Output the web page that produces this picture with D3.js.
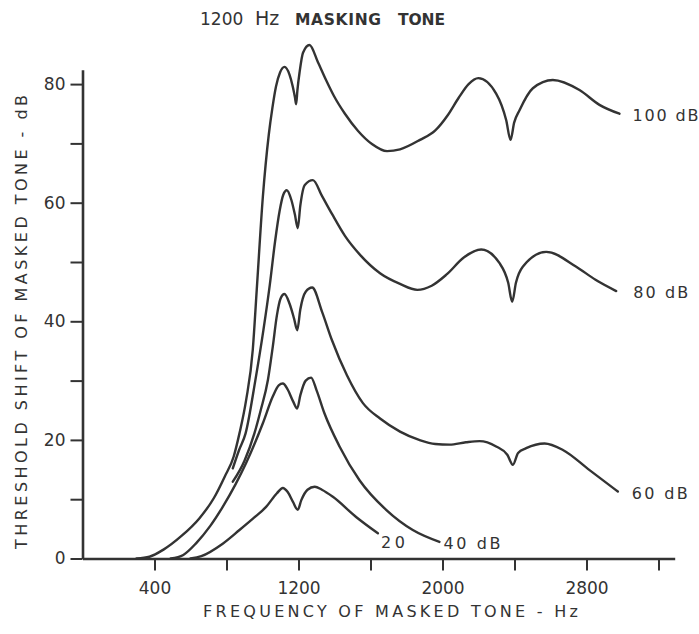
<!DOCTYPE html>
<html>
<head>
<meta charset="utf-8">
<script src="https://cdn.jsdelivr.net/npm/d3@7"></script>
<style>
  html, body { margin: 0; padding: 0; background: #ffffff; }
  svg { display: block; }
  text { font-family: "DejaVu Sans", sans-serif; fill: #333; }
</style>
</head>
<body>
<div id="chart"></div>
<script>
// ---- Data (frequency of masked tone in Hz, threshold shift in dB) ----
const curve100 = [[300,0],[372,0.3],[450,1.5],[550,3.8],[650,6.8],[730,10.2],[790,13.8],[840,17.2],[872,21.1],[909,26.7],[946,35.2],[968,45.3],[1002,61],[1035,71.5],[1055,76],[1075,79.6],[1098,82],[1122,82.9],[1150,81.6],[1168,79.6],[1180,77.8],[1187,76.6],[1194,79],[1206,82],[1225,85.3],[1261,86.6],[1308,83.7],[1353,80.7],[1397,78.0],[1458,75.0],[1531,72.1],[1608,69.9],[1692,68.7],[1764,69.0],[1875,70.6],[1960,72.2],[2030,74.8],[2090,77.7],[2145,80.0],[2199,81],[2298,78.4],[2354,73.9],[2378,70.6],[2398,73.5],[2428,75.6],[2502,79.3],[2613,80.7],[2761,79],[2872,76.5],[2983,75]];
const curve80 = [[835,15.2],[870,18.3],[906,21.1],[960,30],[1005,38.5],[1040,46],[1070,53.5],[1095,58.6],[1115,61.3],[1135,62.1],[1160,60.5],[1180,58],[1196,55.7],[1210,59.5],[1235,63],[1280,63.8],[1331,61.1],[1386,58.1],[1458,54.4],[1542,51.2],[1653,48.1],[1764,46.3],[1860,45.3],[1940,46.0],[2023,47.9],[2120,50.8],[2215,52.1],[2317,49.8],[2365,46.5],[2387,43.3],[2408,46.5],[2446,49.2],[2576,51.7],[2743,49.2],[2850,47],[2965,45.1]];
const curve60 = [[835,12.95],[900,16.5],[955,21.1],[990,25],[1030,30.1],[1057,35.7],[1080,41],[1100,43.8],[1122,44.6],[1150,43],[1175,40.5],[1193,38.5],[1210,42],[1240,45],[1276,45.7],[1331,41.6],[1386,36.8],[1469,30.9],[1558,26.2],[1653,23.6],[1764,21.4],[1870,20.0],[1960,19.3],[2039,19.2],[2130,19.6],[2206,19.8],[2298,18.9],[2360,17.5],[2391,15.8],[2420,17.8],[2465,18.6],[2567,19.4],[2669,18.3],[2817,14.9],[2974,11.3]];
const curve40 = [[490,0],[560,0.6],[632,2.6],[710,5.5],[779,8.7],[850,12.5],[909,16.1],[1002,22.8],[1057,27.3],[1090,29.2],[1113,29.5],[1140,28.5],[1170,26.5],[1193,25.3],[1210,27.5],[1240,30],[1270,30.5],[1300,28.4],[1344,24.5],[1428,18.9],[1539,13.2],[1687,8.2],[1835,4.8],[1983,2.8]];
const curve20 = [[600,0],[660,0.4],[779,2.5],[872,4.8],[950,6.8],[1020,8.7],[1080,11],[1113,11.9],[1140,11.2],[1170,9.5],[1196,8.2],[1215,9.8],[1250,11.6],[1290,12.1],[1330,11.6],[1391,10.4],[1520,7.0],[1641,4.25]];

const seriesNames = ["100 dB", "80 dB", "60 dB", "40 dB", "20"];
const seriesData = [curve100, curve80, curve60, curve40, curve20];

const freqTicks = [400, 800, 1200, 1600, 2000, 2400, 2800, 3200];
const freqTickLabels = ["400", "", "1200", "", "2000", "", "2800", ""];
const dbTicks = [0, 10, 20, 30, 40, 50, 60, 70, 80];
const dbTickLabels = ["0", "", "20", "", "40", "", "60", "", "80"];

const chartTitle = ["1200", "Hz", "MASKING", "TONE"];
const xTitle = "FREQUENCY OF MASKED TONE - Hz";
const yTitle = "THRESHOLD SHIFT OF MASKED TONE - dB";

// ---- Layout ----
const W = 699, H = 634;
const ink = "#333";
const svg = d3.select("#chart").append("svg").attr("width", W).attr("height", H);

const x = d3.scaleLinear().domain([0, 3290]).range([82.5, 82.5 + 0.18 * 3290]);
const y = d3.scaleLinear().domain([0, 82.4]).range([558.5, 558.5 - 5.93 * 82.4]);

// Axes
const xAxis = d3.axisBottom(x).tickValues(freqTicks)
  .tickFormat((d, i) => freqTickLabels[i]).tickSizeInner(12).tickSizeOuter(0).tickPadding(7);
const gx = svg.append("g").attr("transform", `translate(0,${y(0)})`).call(xAxis);
gx.select(".domain").attr("stroke", ink).attr("stroke-width", 2.6);
gx.selectAll(".tick line").attr("stroke", ink).attr("stroke-width", 2);
gx.selectAll(".tick text").attr("font-size", 17).attr("fill", ink)
  .attr("font-family", "DejaVu Sans").attr("dy", "0.95em");

const yAxis = d3.axisLeft(y).tickValues(dbTicks)
  .tickFormat((d, i) => dbTickLabels[i]).tickSizeInner(12).tickSizeOuter(0).tickPadding(5);
const gy = svg.append("g").attr("transform", `translate(${x(0)},0)`).call(yAxis);
gy.select(".domain").attr("stroke", ink).attr("stroke-width", 2.6);
gy.selectAll(".tick line").attr("stroke", ink).attr("stroke-width", 2);
gy.selectAll(".tick text").attr("font-size", 17).attr("fill", ink)
  .attr("font-family", "DejaVu Sans");

// Curves
const line = d3.line()
  .x(d => x(d[0])).y(d => y(d[1]))
  .curve(d3.curveMonotoneX);

svg.append("g").selectAll("path")
  .data(seriesData)
  .join("path")
  .attr("d", line)
  .attr("fill", "none")
  .attr("stroke", ink)
  .attr("stroke-width", 2.4)
  .attr("stroke-linejoin", "round")
  .attr("stroke-linecap", "round");

// Curve labels, placed relative to each curve's last point
const labelOffsets = [[13, 7], [17, 7], [14, 7.5], [4, 7.5], [3, 15]];
const labelWidths = [66, 55, 56, 57, 24];
svg.append("g").selectAll("text")
  .data(seriesData)
  .join("text")
  .attr("x", (d, i) => x(d[d.length - 1][0]) + labelOffsets[i][0])
  .attr("y", (d, i) => y(d[d.length - 1][1]) + labelOffsets[i][1])
  .attr("font-size", 16)
  .attr("textLength", (d, i) => labelWidths[i])
  .attr("lengthAdjust", "spacing")
  .text((d, i) => seriesNames[i]);

// Title
const tTitle = svg.append("text").attr("y", 25);
tTitle.append("tspan").attr("x", 200).attr("font-size", 17).text(chartTitle[0]);
tTitle.append("tspan").attr("x", 255).attr("font-size", 19).text(chartTitle[1]);
tTitle.append("tspan").attr("x", 295).attr("font-size", 15.5).attr("font-weight", "bold")
  .attr("textLength", 86).attr("lengthAdjust", "spacing").text(chartTitle[2]);
tTitle.append("tspan").attr("x", 398).attr("font-size", 15.5).attr("font-weight", "bold")
  .attr("textLength", 47).attr("lengthAdjust", "spacing").text(chartTitle[3]);

// Axis titles
svg.append("text")
  .attr("x", 203).attr("y", 617)
  .attr("font-size", 16)
  .attr("textLength", 375).attr("lengthAdjust", "spacing")
  .text(xTitle);

svg.append("text")
  .attr("transform", "translate(27,549) rotate(-90)")
  .attr("font-size", 16)
  .attr("textLength", 454).attr("lengthAdjust", "spacing")
  .text(yTitle);
</script>
</body>
</html>
